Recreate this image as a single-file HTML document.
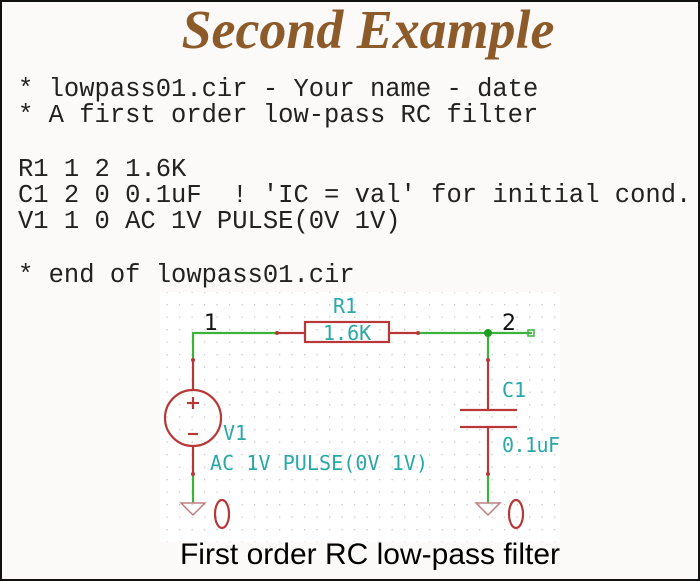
<!DOCTYPE html>
<html><head><style>
body{margin:0;width:700px;height:581px;overflow:hidden;background:#fff}
.f{position:absolute;left:0;top:0;width:696px;height:577px;border:2px solid #111;background:#fbfaf8}
.m{position:absolute;left:18px;font-family:"Liberation Mono",monospace;font-size:25.5px;color:#222;white-space:pre;line-height:1}
</style></head><body>
<div class="f"></div>
<div style="position:absolute;left:0;width:736px;top:2px;text-align:center;font-family:'Liberation Serif',serif;font-weight:bold;font-style:italic;font-size:55px;color:#8d5a2a;line-height:1;transform:scaleX(0.98)">Second Example</div>
<div class="m" style="top:77px">* lowpass01.cir - Your name - date</div>
<div class="m" style="top:103px">* A first order low-pass RC filter</div>
<div class="m" style="top:157px">R1 1 2 1.6K</div>
<div class="m" style="top:183px">C1 2 0 0.1uF  ! 'IC = val' for initial cond.</div>
<div class="m" style="top:209px">V1 1 0 AC 1V PULSE(0V 1V)</div>
<div class="m" style="top:263px">* end of lowpass01.cir</div>
<svg style="position:absolute;left:0;top:0" width="700" height="581">
<defs><pattern id="g" width="12.5" height="12.5" patternUnits="userSpaceOnUse" x="4" y="4"><rect x="0" y="0" width="1.3" height="1.3" fill="#c8c8c8"/></pattern></defs>
<rect x="160" y="292" width="400" height="250" fill="#fff"/>
<rect x="160" y="292" width="400" height="250" fill="url(#g)"/>
<g stroke="#3cb43c" stroke-width="2.2" fill="none">
<polyline points="193,360 193,333 277,333"/>
<polyline points="418,333 532,333"/>
<line x1="488" y1="333" x2="488" y2="360"/>
<line x1="193" y1="474" x2="193" y2="503"/>
<line x1="488" y1="474" x2="488" y2="503"/>
</g>
<rect x="528" y="330" width="6" height="6" fill="none" stroke="#3cb43c" stroke-width="1.5"/>
<circle cx="488" cy="333" r="4" fill="#1e9e1e"/>
<g stroke="#b83838" stroke-width="2.2" fill="none">
<line x1="277" y1="333" x2="305" y2="333"/>
<line x1="389" y1="333" x2="418" y2="333"/>
<rect x="305" y="322" width="84" height="20"/>
<line x1="193" y1="360" x2="193" y2="390"/>
<line x1="193" y1="446" x2="193" y2="474"/>
<circle cx="193" cy="418" r="28"/>
<line x1="187" y1="403" x2="199" y2="403"/><line x1="193" y1="397" x2="193" y2="409"/>
<line x1="188" y1="434" x2="198" y2="434"/>
<line x1="488" y1="360" x2="488" y2="410"/>
<line x1="488" y1="427" x2="488" y2="474"/>
<line x1="460" y1="410" x2="517" y2="410"/>
<line x1="460" y1="427" x2="517" y2="427"/>
<ellipse cx="222" cy="514" rx="7" ry="14"/>
<ellipse cx="516" cy="514" rx="7" ry="14"/>
</g>
<g stroke="#c08080" stroke-width="1.5" fill="none">
<polygon points="181,503 205,503 193,515"/>
<polygon points="476,503 500,503 488,515"/>
</g>
<g fill="#b83838"><circle cx="277" cy="333" r="2"/><circle cx="418" cy="333" r="2"/><circle cx="193" cy="360" r="2"/><circle cx="193" cy="474" r="2"/><circle cx="488" cy="360" r="2"/><circle cx="488" cy="474" r="2"/></g>
<g font-family="'DejaVu Sans Mono',monospace" fill="#2aa8a8" font-size="20">
<text x="333" y="313">R1</text>
<text x="323" y="340">1.6K</text>
<text x="502" y="397">C1</text>
<text x="502" y="452" textLength="58">0.1uF</text>
<text x="223" y="440">V1</text>
<text x="210" y="470" textLength="218">AC 1V PULSE(0V 1V)</text>
</g>
<g font-family="'DejaVu Sans',sans-serif" fill="#111" font-size="22"><text x="204" y="330">1</text><text x="502" y="330">2</text></g>
</svg>
<div style="position:absolute;left:0;width:740px;top:540px;text-align:center;font-family:'Liberation Sans',sans-serif;font-size:30px;color:#000;line-height:1">First order RC low-pass filter</div>
</body></html>
